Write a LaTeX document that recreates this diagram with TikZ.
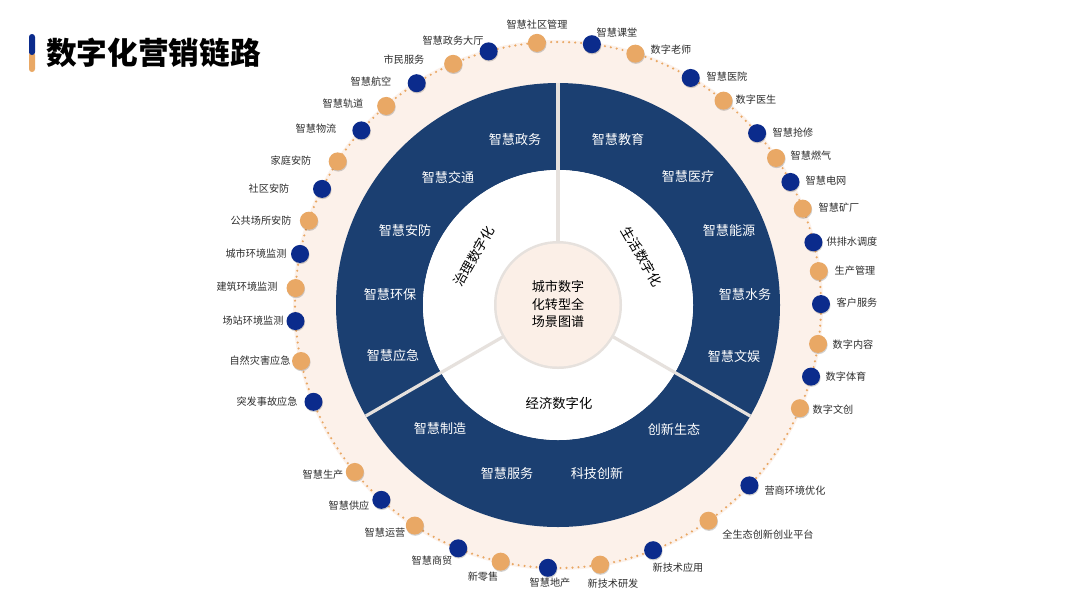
\documentclass[tikz,border=0pt]{standalone}
\usepackage{fontspec}
\setmainfont{Noto Sans CJK SC}
\usetikzlibrary{shadows}
\definecolor{ringblue}{HTML}{1B3F71}
\definecolor{dotblue}{HTML}{0B2B8C}
\definecolor{dotorange}{HTML}{E9A865}
\definecolor{peach}{HTML}{FCF1EA}
\definecolor{centerfill}{HTML}{FBEFE7}
\definecolor{divider}{HTML}{E6E1DD}
\definecolor{labgray}{HTML}{2E2E2E}
\newcommand\putdot[6]{%
  \node[dotnode, fill=#3] (d#1) at ([shift={(#2:263)}]C) {};
  \node[outlab] (l#1) at (#5,-#6) {#4};
}
\begin{document}
\begin{tikzpicture}[x=0.75pt,y=0.75pt,
  dotnode/.style={circle, inner sep=0pt, minimum size=13.5, draw=none,
    drop shadow={shadow xshift=0.4pt, shadow yshift=-0.9pt, opacity=0.18, fill=black}},
  outlab/.style={text=labgray, font=\fontsize{7.6}{9}\selectfont, inner sep=0pt},
  bluelab/.style={text=white, font=\fontsize{9.8}{11}\selectfont, inner sep=0pt},
  seclab/.style={text=black, font=\fontsize{10}{12}\selectfont, inner sep=0pt},
  divline/.style={draw=divider, line width=2.4pt}
]
\useasboundingbox (0,0) rectangle (1080,-608);
\fill[white] (0,0) rectangle (1080,-608);
\coordinate (C) at (558,-305);
% title
\fill[dotorange, rounded corners=2.2] (29,-52) rectangle (35,-72);
\fill[dotblue, rounded corners=2.2] (29,-34) rectangle (35,-55);
\fill[dotblue] (29,-50) rectangle (35,-53);
\node[anchor=west, inner sep=0pt, font=\fontsize{23}{26}\selectfont\bfseries] (title) at (46,-53) {数字化营销链路};
% peach disk
\fill[peach] (C) circle (265);
% dotted ring
\draw[dotorange, line width=1.8pt, line cap=round, dash pattern=on 0pt off 4.5pt] (C) circle (263);
% blue ring
\fill[ringblue, even odd rule] (C) circle (222) (C) circle (135);
\fill[white] (C) circle (135);
% dividers
\foreach \a in {90,210,330}
  \draw[divline] ([shift={(\a:60)}]C) -- ([shift={(\a:222)}]C);
% center
\fill[divider] (C) circle (64);
\fill[centerfill] (C) circle (61.5);
\node[text=black, align=center, font=\fontsize{9.8}{12.8}\selectfont] (ctr) at (558,-304) {城市数字\\化转型全\\场景图谱};
% sector labels
\node[seclab, rotate=60] (s1) at ([shift={(150:97)}]C) {治理数字化};
\node[seclab, rotate=-60] (s2) at ([shift={(30:97)}]C) {生活数字化};
\node[seclab] (s3) at (559,-403) {经济数字化};
% blue ring labels
\node[bluelab] (b1) at (515,-140) {智慧政务};
\node[bluelab] (b2) at (448,-177) {智慧交通};
\node[bluelab] (b3) at (405,-231) {智慧安防};
\node[bluelab] (b4) at (390,-295) {智慧环保};
\node[bluelab] (b5) at (393,-356) {智慧应急};
\node[bluelab] (b6) at (618,-140) {智慧教育};
\node[bluelab] (b7) at (688,-177) {智慧医疗};
\node[bluelab] (b8) at (729,-231) {智慧能源};
\node[bluelab] (b9) at (745,-295) {智慧水务};
\node[bluelab] (b10) at (734,-356) {智慧文娱};
\node[bluelab] (b11) at (440,-429) {智慧制造};
\node[bluelab] (b12) at (674,-429) {创新生态};
\node[bluelab] (b13) at (507,-474) {智慧服务};
\node[bluelab] (b14) at (597,-474) {科技创新};
% outer dots and labels
\putdot{1}{94.6}{dotorange}{智慧社区管理}{537}{25}
\putdot{2}{105.3}{dotblue}{智慧政务大厅}{453}{41}
\putdot{3}{113.5}{dotorange}{市民服务}{404}{60}
\putdot{4}{122.5}{dotblue}{智慧航空}{371}{82}
\putdot{5}{130.8}{dotorange}{智慧轨道}{343}{104}
\putdot{6}{138.4}{dotblue}{智慧物流}{316}{129}
\putdot{7}{146.9}{dotorange}{家庭安防}{291}{161}
\putdot{8}{153.8}{dotblue}{社区安防}{269}{189}
\putdot{9}{161.3}{dotorange}{公共场所安防}{261}{221}
\putdot{10}{168.8}{dotblue}{城市环境监测}{256}{254}
\putdot{11}{176.3}{dotorange}{建筑环境监测}{247}{287}
\putdot{12}{183.5}{dotblue}{场站环境监测}{253}{321}
\putdot{13}{192.3}{dotorange}{自然灾害应急}{260}{361}
\putdot{14}{201.6}{dotblue}{突发事故应急}{267}{402}
\putdot{15}{219.4}{dotorange}{智慧生产}{323}{475}
\putdot{16}{227.8}{dotblue}{智慧供应}{349}{506}
\putdot{17}{237.0}{dotorange}{智慧运营}{385}{533}
\putdot{18}{247.7}{dotblue}{智慧商贸}{432}{561}
\putdot{19}{257.4}{dotorange}{新零售}{483}{577}
\putdot{20}{267.8}{dotblue}{智慧地产}{550}{583}
\putdot{21}{279.2}{dotorange}{新技术研发}{613}{584}
\putdot{22}{291.2}{dotblue}{新技术应用}{678}{568}
\putdot{23}{304.9}{dotorange}{全生态创新创业平台}{768}{535}
\putdot{24}{316.7}{dotblue}{营商环境优化}{795}{491}
\putdot{25}{336.9}{dotorange}{数字文创}{833}{410}
\putdot{26}{344.2}{dotblue}{数字体育}{846}{377}
\putdot{27}{351.5}{dotorange}{数字内容}{853}{345}
\putdot{28}{0.2}{dotblue}{客户服务}{857}{303}
\putdot{29}{7.4}{dotorange}{生产管理}{855}{271}
\putdot{30}{13.8}{dotblue}{供排水调度}{852}{242}
\putdot{31}{21.5}{dotorange}{智慧矿厂}{839}{208}
\putdot{32}{27.9}{dotblue}{智慧电网}{826}{181}
\putdot{33}{34.0}{dotorange}{智慧燃气}{811}{156}
\putdot{34}{40.8}{dotblue}{智慧抢修}{793}{133}
\putdot{35}{51.0}{dotorange}{数字医生}{756}{100}
\putdot{36}{59.7}{dotblue}{智慧医院}{727}{77}
\putdot{37}{72.9}{dotorange}{数字老师}{671}{50}
\putdot{38}{82.6}{dotblue}{智慧课堂}{617}{33}
\end{tikzpicture}
\end{document}
